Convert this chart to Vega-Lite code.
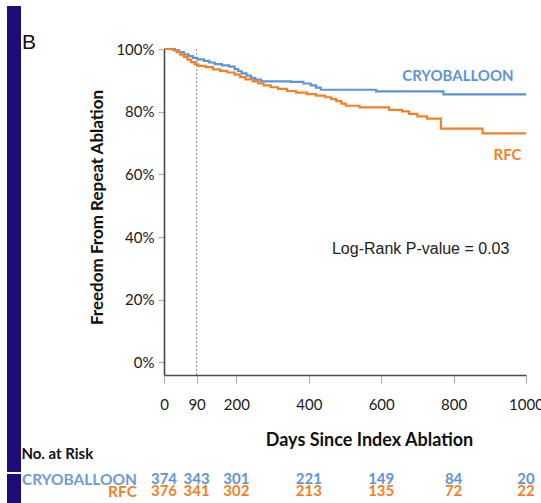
{
  "$schema": "https://vega.github.io/schema/vega-lite/v6.json",
  "padding": {"left": 7, "top": 6, "right": 0, "bottom": 0},
  "background": "white",
  "config": {
    "view": {"stroke": null},
    "font": "Lato",
    "axis": {"grid": false}
  },
  "spacing": -16,
  "hconcat": [
    {
      "spacing": 2,
      "vconcat": [
        {
          "spacing": 0,
          "vconcat": [
            {"width": 14, "height": 73, "view": {"fill": "#1d0c7a", "stroke": null},
             "title": {"text": "B", "orient": "right", "anchor": "middle", "frame": "group", "angle": 0,
                       "align": "right", "baseline": "middle", "offset": 1,
                       "font": "Liberation Sans", "fontSize": 21, "fontWeight": "normal", "color": "#111111"},
             "data": {"values": []}, "mark": "point"},
            {"width": 14, "height": 393, "view": {"fill": "#1d0c7a", "stroke": null},
             "data": {"values": []}, "mark": "point"}
          ]
        },
        {"width": 14, "height": 29, "view": {"fill": "#1d0c7a", "stroke": null},
         "data": {"values": []}, "mark": "point"}
      ]
    },
    {
      "spacing": -2,
      "vconcat": [
        {"width": 362, "height": 38, "data": {"values": []}, "mark": "point"},
        {
          "width": 362,
          "height": 326,
          "layer": [
            {
              "data": {"values": [{"landmark": 90}]},
              "mark": {"type": "rule", "color": "#9a9a9a", "strokeDash": [2, 2], "strokeWidth": 1.2},
              "encoding": {"x": {"field": "landmark", "type": "quantitative"}}
            },
            {
              "data": {"values": [
                {"group": "CRYOBALLOON", "day": 0, "surv": 1.0},
                {"group": "CRYOBALLOON", "day": 30, "surv": 0.996},
                {"group": "CRYOBALLOON", "day": 42, "surv": 0.99},
                {"group": "CRYOBALLOON", "day": 55, "surv": 0.983},
                {"group": "CRYOBALLOON", "day": 68, "surv": 0.977},
                {"group": "CRYOBALLOON", "day": 80, "surv": 0.972},
                {"group": "CRYOBALLOON", "day": 92, "surv": 0.967},
                {"group": "CRYOBALLOON", "day": 110, "surv": 0.962},
                {"group": "CRYOBALLOON", "day": 125, "surv": 0.957},
                {"group": "CRYOBALLOON", "day": 140, "surv": 0.952},
                {"group": "CRYOBALLOON", "day": 160, "surv": 0.948},
                {"group": "CRYOBALLOON", "day": 180, "surv": 0.944},
                {"group": "CRYOBALLOON", "day": 195, "surv": 0.936},
                {"group": "CRYOBALLOON", "day": 205, "surv": 0.929},
                {"group": "CRYOBALLOON", "day": 215, "surv": 0.922},
                {"group": "CRYOBALLOON", "day": 228, "surv": 0.915},
                {"group": "CRYOBALLOON", "day": 240, "surv": 0.908},
                {"group": "CRYOBALLOON", "day": 252, "surv": 0.902},
                {"group": "CRYOBALLOON", "day": 268, "surv": 0.897},
                {"group": "CRYOBALLOON", "day": 350, "surv": 0.895},
                {"group": "CRYOBALLOON", "day": 385, "surv": 0.89},
                {"group": "CRYOBALLOON", "day": 405, "surv": 0.884},
                {"group": "CRYOBALLOON", "day": 420, "surv": 0.877},
                {"group": "CRYOBALLOON", "day": 433, "surv": 0.87},
                {"group": "CRYOBALLOON", "day": 586, "surv": 0.865},
                {"group": "CRYOBALLOON", "day": 772, "surv": 0.855},
                {"group": "CRYOBALLOON", "day": 1000, "surv": 0.855},
                {"group": "RFC", "day": 0, "surv": 1.0},
                {"group": "RFC", "day": 25, "surv": 0.996},
                {"group": "RFC", "day": 35, "surv": 0.99},
                {"group": "RFC", "day": 45, "surv": 0.982},
                {"group": "RFC", "day": 55, "surv": 0.975},
                {"group": "RFC", "day": 65, "surv": 0.966},
                {"group": "RFC", "day": 75, "surv": 0.958},
                {"group": "RFC", "day": 85, "surv": 0.951},
                {"group": "RFC", "day": 95, "surv": 0.946},
                {"group": "RFC", "day": 115, "surv": 0.942},
                {"group": "RFC", "day": 135, "surv": 0.935},
                {"group": "RFC", "day": 155, "surv": 0.93},
                {"group": "RFC", "day": 175, "surv": 0.925},
                {"group": "RFC", "day": 195, "surv": 0.918},
                {"group": "RFC", "day": 210, "surv": 0.91},
                {"group": "RFC", "day": 225, "surv": 0.903},
                {"group": "RFC", "day": 245, "surv": 0.897},
                {"group": "RFC", "day": 260, "surv": 0.89},
                {"group": "RFC", "day": 275, "surv": 0.884},
                {"group": "RFC", "day": 295, "surv": 0.878},
                {"group": "RFC", "day": 315, "surv": 0.873},
                {"group": "RFC", "day": 340, "surv": 0.866},
                {"group": "RFC", "day": 365, "surv": 0.861},
                {"group": "RFC", "day": 395, "surv": 0.856},
                {"group": "RFC", "day": 420, "surv": 0.851},
                {"group": "RFC", "day": 445, "surv": 0.846},
                {"group": "RFC", "day": 462, "surv": 0.84},
                {"group": "RFC", "day": 476, "surv": 0.834},
                {"group": "RFC", "day": 490, "surv": 0.826},
                {"group": "RFC", "day": 502, "surv": 0.819},
                {"group": "RFC", "day": 540, "surv": 0.814},
                {"group": "RFC", "day": 622, "surv": 0.806},
                {"group": "RFC", "day": 658, "surv": 0.801},
                {"group": "RFC", "day": 677, "surv": 0.793},
                {"group": "RFC", "day": 700, "surv": 0.785},
                {"group": "RFC", "day": 727, "surv": 0.778},
                {"group": "RFC", "day": 765, "surv": 0.746},
                {"group": "RFC", "day": 880, "surv": 0.731},
                {"group": "RFC", "day": 1000, "surv": 0.731}
              ]},
              "mark": {"type": "line", "interpolate": "step-after", "strokeWidth": 2.2},
              "encoding": {
                "x": {
                  "field": "day", "type": "quantitative",
                  "scale": {"domain": [0, 1000], "nice": false, "zero": false},
                  "axis": {
                    "values": [0, 90, 200, 400, 600, 800, 1000], "format": "d",
                    "domainColor": "#4a4a4a", "domainWidth": 1.6,
                    "tickColor": "#b0b0b0", "tickSize": 8, "tickWidth": 1.2,
                    "labelFont": "Lato", "labelFontSize": 15, "labelColor": "#1a1a1a",
                    "labelPadding": 14, "labelFlush": false,
                    "title": "Days Since Index Ablation", "titleFont": "Lato",
                    "titleFontSize": 18, "titleFontWeight": "bold", "titleColor": "#111111",
                    "titleX": 205, "titlePadding": 19
                  }
                },
                "y": {
                  "field": "surv", "type": "quantitative",
                  "scale": {"domain": [-0.04, 1.0], "nice": false, "zero": false},
                  "axis": {
                    "values": [0, 0.2, 0.4, 0.6, 0.8, 1.0], "format": ".0%",
                    "domainColor": "#4a4a4a", "domainWidth": 1.6,
                    "tickColor": "#b0b0b0", "tickSize": 6, "tickWidth": 1.2,
                    "labelFont": "Lato", "labelFontSize": 15, "labelColor": "#1a1a1a",
                    "labelPadding": 4,
                    "title": "Freedom From Repeat Ablation", "titleFont": "Lato",
                    "titleFontSize": 17, "titleFontWeight": "bold", "titleColor": "#111111",
                    "titlePadding": 9, "titleY": 158
                  }
                },
                "color": {
                  "field": "group", "type": "nominal",
                  "scale": {"domain": ["CRYOBALLOON", "RFC"], "range": ["#5f93d8", "#f47f24"]},
                  "legend": null
                }
              }
            },
            {
              "data": {"values": [
                {"group": "CRYOBALLOON", "day": 812, "surv": 0.915},
                {"group": "RFC", "day": 949, "surv": 0.662}
              ]},
              "mark": {"type": "text", "font": "Lato", "fontSize": 15, "fontWeight": "bold", "align": "center", "baseline": "middle"},
              "encoding": {
                "x": {"field": "day", "type": "quantitative"},
                "y": {"field": "surv", "type": "quantitative"},
                "text": {"field": "group"},
                "color": {"field": "group", "type": "nominal", "legend": null}
              }
            },
            {
              "data": {"values": [{"note": "Log-Rank P-value = 0.03", "day": 709, "surv": 0.363}]},
              "mark": {"type": "text", "font": "Liberation Sans", "fontSize": 16, "color": "#222222", "align": "center", "baseline": "middle"},
              "encoding": {
                "x": {"field": "day", "type": "quantitative"},
                "y": {"field": "surv", "type": "quantitative"},
                "text": {"field": "note"}
              }
            }
          ]
        },
        {
          "width": 362,
          "height": 24,
          "title": {
            "text": "No. at Risk", "anchor": "start", "frame": "bounds", "font": "Lato",
            "fontSize": 15, "fontWeight": "bold", "color": "#111111", "baseline": "bottom", "offset": -5
          },
          "data": {"values": [
            {"group": "CRYOBALLOON", "day": 0, "n": 374},
            {"group": "CRYOBALLOON", "day": 90, "n": 343},
            {"group": "CRYOBALLOON", "day": 200, "n": 301},
            {"group": "CRYOBALLOON", "day": 400, "n": 221},
            {"group": "CRYOBALLOON", "day": 600, "n": 149},
            {"group": "CRYOBALLOON", "day": 800, "n": 84},
            {"group": "CRYOBALLOON", "day": 1000, "n": 20},
            {"group": "RFC", "day": 0, "n": 376},
            {"group": "RFC", "day": 90, "n": 341},
            {"group": "RFC", "day": 200, "n": 302},
            {"group": "RFC", "day": 400, "n": 213},
            {"group": "RFC", "day": 600, "n": 135},
            {"group": "RFC", "day": 800, "n": 72},
            {"group": "RFC", "day": 1000, "n": 22}
          ]},
          "mark": {"type": "text", "font": "Lato", "fontSize": 15, "fontWeight": "bold", "align": "center", "baseline": "middle"},
          "encoding": {
            "x": {"field": "day", "type": "quantitative", "scale": {"domain": [0, 1000], "nice": false, "zero": false}, "axis": null},
            "y": {
              "field": "group", "type": "nominal", "sort": ["CRYOBALLOON", "RFC"],
              "scale": {"type": "point", "padding": 0.5},
              "axis": {
                "title": null, "domain": false, "ticks": false, "tickSize": 0,
                "labelFont": "Lato", "labelFontSize": 15.5, "labelFontWeight": "bold",
                "labelPadding": 27.5,
                "labelColor": {"expr": "datum.value == 'RFC' ? '#f07f2c' : '#6f9bd6'"}
              }
            },
            "text": {"field": "n", "type": "quantitative"},
            "color": {
              "field": "group", "type": "nominal",
              "scale": {"domain": ["CRYOBALLOON", "RFC"], "range": ["#6f9bd6", "#f07f2c"]},
              "legend": null
            }
          }
        }
      ]
    }
  ]
}
